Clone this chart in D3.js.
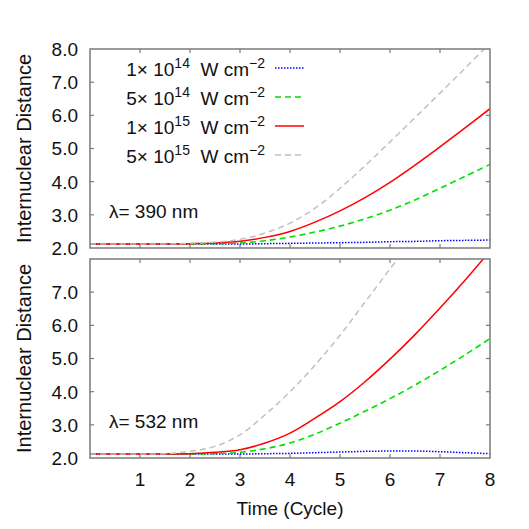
<!DOCTYPE html>
<html>
<head>
<meta charset="utf-8">
<script src="https://cdn.jsdelivr.net/npm/d3@7"></script>
<style>
  body { margin: 0; background: #fff; }
  svg { display: block; font-family: "Liberation Sans", Arial, sans-serif; }
</style>
</head>
<body>
<div id="chart"></div>
<script>
// time axis (cycles)
const times = [0, 0.5, 1, 1.5, 2, 2.5, 3, 3.5, 4, 4.5, 5, 5.5, 6, 6.5, 7, 7.5, 8];

// lambda = 390 nm
const blue390  = [2.12, 2.12, 2.12, 2.12, 2.12, 2.12, 2.12, 2.13, 2.14, 2.15, 2.16, 2.17, 2.19, 2.20, 2.22, 2.23, 2.24];
const green390 = [2.12, 2.12, 2.12, 2.12, 2.12, 2.13, 2.15, 2.22, 2.33, 2.48, 2.66, 2.88, 3.14, 3.45, 3.80, 4.16, 4.52];
const red390   = [2.12, 2.12, 2.12, 2.12, 2.13, 2.15, 2.20, 2.32, 2.50, 2.78, 3.12, 3.52, 3.98, 4.50, 5.05, 5.62, 6.20];
const gray390  = [2.12, 2.12, 2.12, 2.12, 2.14, 2.18, 2.26, 2.45, 2.75, 3.20, 3.80, 4.48, 5.20, 5.93, 6.67, 7.42, 8.18];

// lambda = 532 nm
const blue532  = [2.12, 2.12, 2.12, 2.12, 2.12, 2.12, 2.12, 2.13, 2.14, 2.16, 2.18, 2.20, 2.21, 2.21, 2.19, 2.16, 2.13];
const green532 = [2.12, 2.12, 2.12, 2.12, 2.12, 2.13, 2.17, 2.28, 2.45, 2.72, 3.05, 3.41, 3.79, 4.20, 4.64, 5.11, 5.60];
const red532   = [2.12, 2.12, 2.12, 2.12, 2.13, 2.17, 2.25, 2.45, 2.75, 3.20, 3.70, 4.30, 4.98, 5.72, 6.52, 7.36, 8.24];
const gray532  = [2.12, 2.12, 2.12, 2.13, 2.20, 2.35, 2.70, 3.30, 4.00, 4.80, 5.70, 6.70, 7.70, 8.70, null, null, null];

const intensities = [
  { mant: "1", exp: "14" },
  { mant: "5", exp: "14" },
  { mant: "1", exp: "15" },
  { mant: "5", exp: "15" }
];
const xTicks = [1, 2, 3, 4, 5, 6, 7, 8];
const yTicks = [2, 3, 4, 5, 6, 7, 8];

const styles = [
  { color: "#0000ff", dash: "1.5,1.5", width: 1.5 },
  { color: "#00e000", dash: "6,4", width: 1.6 },
  { color: "#ff0000", dash: null, width: 1.5 },
  { color: "#c0c0c0", dash: "6,4", width: 1.5 }
];

const panels = [
  { label: "390 nm", series: [blue390, green390, red390, gray390], top: 49, bottom: 248, yLabels: [2, 3, 4, 5, 6, 7, 8], legend: true },
  { label: "532 nm", series: [blue532, green532, red532, gray532], top: 259, bottom: 458, yLabels: [2, 3, 4, 5, 6, 7], legend: false }
];

const W = 529, H = 529;
const left = 90, right = 490;
const borderColor = "#7a7a7a";
const fs = "19px";

const svg = d3.select("#chart").append("svg")
  .attr("width", W)
  .attr("height", H);

const x = d3.scaleLinear().domain([0, 8]).range([left, right]);

panels.forEach((p, pi) => {
  const y = d3.scaleLinear().domain([2, 8]).range([p.bottom, p.top]);
  const g = svg.append("g");

  const clipId = "clip" + pi;
  svg.append("clipPath").attr("id", clipId)
    .append("rect")
    .attr("x", left).attr("y", p.top)
    .attr("width", right - left).attr("height", p.bottom - p.top);

  // tick marks (inside, mirrored)
  const tl = 4;
  xTicks.filter(t => t < 8).forEach(t => {
    g.append("line").attr("x1", x(t)).attr("x2", x(t)).attr("y1", p.bottom).attr("y2", p.bottom - tl)
      .attr("stroke", borderColor).attr("stroke-width", 1.2);
    g.append("line").attr("x1", x(t)).attr("x2", x(t)).attr("y1", p.top).attr("y2", p.top + tl)
      .attr("stroke", borderColor).attr("stroke-width", 1.2);
  });
  yTicks.filter(t => t > 2 && t < 8).forEach(t => {
    g.append("line").attr("x1", left).attr("x2", left + tl).attr("y1", y(t)).attr("y2", y(t))
      .attr("stroke", borderColor).attr("stroke-width", 1.2);
    g.append("line").attr("x1", right).attr("x2", right - tl).attr("y1", y(t)).attr("y2", y(t))
      .attr("stroke", borderColor).attr("stroke-width", 1.2);
  });

  // y tick labels
  p.yLabels.forEach(t => {
    g.append("text")
      .attr("x", 78).attr("y", y(t))
      .attr("dy", "0.36em")
      .attr("text-anchor", "end")
      .style("font-size", fs)
      .attr("fill", "#111")
      .text(d3.format(".1f")(t));
  });

  // y title
  g.append("text")
    .attr("transform", `translate(31,${(p.top + p.bottom) / 2}) rotate(-90)`)
    .attr("text-anchor", "middle")
    .style("font-size", "20px")
    .attr("fill", "#111")
    .text("Internuclear Distance");

  // curves
  const line = d3.line()
    .defined(d => d[1] !== null)
    .x(d => x(d[0]))
    .y(d => y(d[1]))
    .curve(d3.curveCatmullRom);

  const lines = g.append("g").attr("clip-path", `url(#${clipId})`);
  p.series.forEach((s, i) => {
    const st = styles[i];
    lines.append("path")
      .datum(times.map((t, k) => [t, s[k]]))
      .attr("d", line)
      .attr("fill", "none")
      .attr("stroke", st.color)
      .attr("stroke-width", st.width)
      .attr("stroke-dasharray", st.dash);
  });

  // border
  g.append("rect")
    .attr("x", left).attr("y", p.top)
    .attr("width", right - left).attr("height", p.bottom - p.top)
    .attr("fill", "none")
    .attr("stroke", borderColor)
    .attr("stroke-width", 1.5);

  // wavelength label
  g.append("text")
    .attr("x", 109).attr("y", p.bottom - 30)
    .style("font-size", fs)
    .attr("fill", "#111")
    .text("λ= " + p.label);

  // legend
  if (p.legend) {
    intensities.forEach((d, i) => {
      const cy = 68 + i * 29;
      const t = g.append("text")
        .attr("x", 265).attr("y", cy + 8)
        .attr("text-anchor", "end")
        .style("font-size", fs)
        .attr("fill", "#111");
      t.append("tspan").text(d.mant + "× 10");
      t.append("tspan").attr("dy", -8).style("font-size", "14px").text(d.exp);
      t.append("tspan").attr("dy", 8).text("\u00a0\u00a0W cm");
      t.append("tspan").attr("dy", -8).style("font-size", "14px").text("−2");
      const st = styles[i];
      g.append("line")
        .attr("x1", 275).attr("x2", 304)
        .attr("y1", cy).attr("y2", cy)
        .attr("stroke", st.color)
        .attr("stroke-width", st.width)
        .attr("stroke-dasharray", st.dash);
    });
  }
});

// x tick labels (bottom panel only)
xTicks.forEach(t => {
  svg.append("text")
    .attr("x", x(t)).attr("y", 486)
    .attr("text-anchor", "middle")
    .style("font-size", fs)
    .attr("fill", "#111")
    .text(t);
});

svg.append("text")
  .attr("x", 290).attr("y", 515)
  .attr("text-anchor", "middle")
  .style("font-size", fs)
  .attr("fill", "#111")
  .text("Time (Cycle)");
</script>
</body>
</html>
